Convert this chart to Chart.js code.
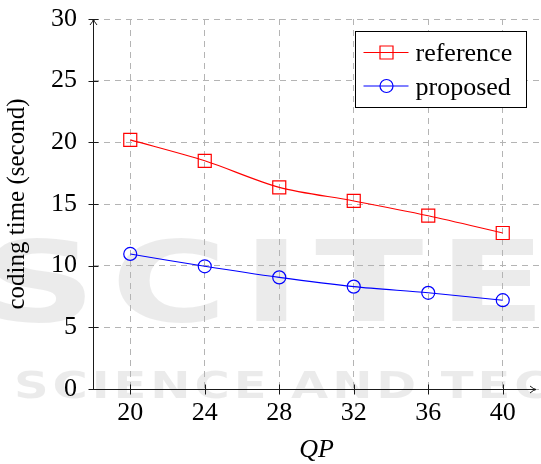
<!DOCTYPE html>
<html>
<head>
<meta charset="utf-8">
<script src="https://cdn.jsdelivr.net/npm/chart.js@4.4.0/dist/chart.umd.min.js"></script>
<style>
  html, body { margin: 0; padding: 0; background: #ffffff; }
  #wrap { width: 541px; height: 464px; }
</style>
</head>
<body>
<div id="wrap"><canvas id="chart" width="541" height="464"></canvas></div>
<script>
// Coding time per QP for the two encoders
const qpValues = [20, 24, 28, 32, 36, 40];
const referenceTimes = [20.2, 18.5, 16.35, 15.25, 14.05, 12.65];
const proposedTimes = [10.95, 9.95, 9.05, 8.3, 7.8, 7.2];
const yTickValues = [0, 5, 10, 15, 20, 25, 30];
const seriesNames = ['reference', 'proposed'];
const xTitle = 'QP';
const yTitle = 'coding time (second)';

const SERIF = "'Liberation Serif', 'Times New Roman', serif";
const RED = '#ff0000';
const BLUE = '#0000ff';
const GRID = '#b4b4b4';

const toPoints = (xs, ys) => xs.map((x, i) => ({ x: x, y: ys[i] }));

// faint publisher mark behind the plot
const backdropMark = {
  id: 'backdropMark',
  beforeDraw(chart) {
    const ctx = chart.ctx;
    ctx.save();
    ctx.fillStyle = 'rgba(0,0,0,0.08)';
    ctx.textBaseline = 'alphabetic';
    ctx.font = "bold 112px 'DejaVu Sans'";
    ctx.save();
    ctx.translate(-18, 321);
    ctx.scale(1.42, 1);
    ctx.letterSpacing = '10px';
    ctx.fillText('SCITE', 0, 0);
    ctx.restore();
    ctx.font = "bold 37px 'DejaVu Sans'";
    ctx.save();
    ctx.translate(14, 398);
    ctx.scale(1.3, 1);
    ctx.letterSpacing = '3px';
    ctx.fillText('SCIENCE AND TECHNOLOGY', 0, 0);
    ctx.restore();
    ctx.restore();
  }
};

function arrowHead(ctx, x, y, dir) {
  ctx.beginPath();
  if (dir === 'up') {
    ctx.moveTo(x - 3.5, y + 6);
    ctx.quadraticCurveTo(x - 0.5, y + 2.5, x, y);
    ctx.quadraticCurveTo(x + 0.5, y + 2.5, x + 3.5, y + 6);
  } else {
    ctx.moveTo(x - 6, y - 3.5);
    ctx.quadraticCurveTo(x - 2.5, y - 0.5, x, y);
    ctx.quadraticCurveTo(x - 2.5, y + 0.5, x - 6, y + 3.5);
  }
  ctx.stroke();
}

// axis lines with arrows, tick marks and the boxed legend
const axesAndLegend = {
  id: 'axesAndLegend',
  afterDraw(chart) {
    const ctx = chart.ctx;
    const a = chart.chartArea;
    const xs = chart.scales.x;
    const ys = chart.scales.y;
    const L = Math.round(a.left) + 0.5;
    const B = Math.round(a.bottom) + 0.5;
    ctx.save();
    ctx.strokeStyle = '#1a1a1a';
    ctx.lineWidth = 1;
    // y axis
    const yTop = ys.getPixelForValue(30);
    ctx.beginPath();
    ctx.moveTo(L, B);
    ctx.lineTo(L, yTop);
    ctx.stroke();
    arrowHead(ctx, L, yTop, 'up');
    // x axis
    const xEnd = a.right - 4;
    ctx.beginPath();
    ctx.moveTo(L, B);
    ctx.lineTo(xEnd, B);
    ctx.stroke();
    arrowHead(ctx, xEnd, B, 'right');
    // tick marks
    yTickValues.forEach(v => {
      const p = Math.round(ys.getPixelForValue(v)) + 0.5;
      ctx.beginPath();
      ctx.moveTo(L - 5, p);
      ctx.lineTo(L + 5, p);
      ctx.stroke();
    });
    qpValues.forEach(v => {
      const p = Math.round(xs.getPixelForValue(v)) + 0.5;
      ctx.beginPath();
      ctx.moveTo(p, B - 5);
      ctx.lineTo(p, B + 5);
      ctx.stroke();
    });

    // legend
    const bx = Math.round(a.right - 185) + 0.5;
    const by = Math.round(yTop + 12) + 0.5;
    const bw = 171, bh = 76;
    ctx.fillStyle = '#ffffff';
    ctx.fillRect(bx, by, bw, bh);
    ctx.strokeStyle = '#000000';
    ctx.strokeRect(bx, by, bw, bh);
    const rows = [
      { name: seriesNames[0], color: RED, shape: 'rect', cy: by + 21 },
      { name: seriesNames[1], color: BLUE, shape: 'circle', cy: by + 54.5 }
    ];
    rows.forEach(r => {
      ctx.strokeStyle = r.color;
      ctx.lineWidth = 1.2;
      ctx.beginPath();
      ctx.moveTo(bx + 8, r.cy);
      ctx.lineTo(bx + 53, r.cy);
      ctx.stroke();
      const mx = bx + 31;
      ctx.beginPath();
      if (r.shape === 'rect') {
        ctx.rect(mx - 6.5, r.cy - 6.5, 13, 13);
      } else {
        ctx.arc(mx, r.cy, 6.5, 0, Math.PI * 2);
      }
      ctx.stroke();
      ctx.fillStyle = '#000000';
      ctx.font = '26px ' + SERIF;
      ctx.textBaseline = 'alphabetic';
      ctx.textAlign = 'left';
      ctx.fillText(r.name, bx + 60, r.cy + 8.5);
    });
    ctx.restore();
  }
};

new Chart(document.getElementById('chart'), {
  type: 'line',
  data: {
    datasets: [
      {
        label: seriesNames[0],
        data: toPoints(qpValues, referenceTimes),
        borderColor: RED,
        borderWidth: 1.1,
        pointStyle: 'rect',
        pointRadius: 9.2,
        pointHoverRadius: 9.2,
        pointBorderWidth: 1.2,
        pointBorderColor: RED,
        pointBackgroundColor: 'rgba(0,0,0,0)',
        tension: 0.3,
        fill: false
      },
      {
        label: seriesNames[1],
        data: toPoints(qpValues, proposedTimes),
        borderColor: BLUE,
        borderWidth: 1.1,
        pointStyle: 'circle',
        pointRadius: 6.5,
        pointHoverRadius: 6.5,
        pointBorderWidth: 1.2,
        pointBorderColor: BLUE,
        pointBackgroundColor: 'rgba(0,0,0,0)',
        tension: 0.3,
        fill: false
      }
    ]
  },
  options: {
    responsive: false,
    animation: false,
    devicePixelRatio: 1,
    layout: { autoPadding: false, padding: { top: 19, right: 1, left: 0, bottom: 0 } },
    plugins: {
      legend: { display: false },
      tooltip: { enabled: false }
    },
    scales: {
      x: {
        type: 'linear',
        min: 18,
        max: 42,
        afterBuildTicks: s => { s.ticks = qpValues.map(v => ({ value: v })); },
        afterFit: s => { s.height = 75; s.paddingLeft = 0; s.paddingRight = 0; },
        ticks: {
          color: '#000000',
          font: { family: SERIF, size: 26 },
          padding: 9,
          maxRotation: 0,
          autoSkip: false,
          callback: v => String(v)
        },
        grid: { color: GRID, lineWidth: 1, drawTicks: false },
        border: { display: false, dash: [6, 5] },
        title: {
          display: true,
          text: xTitle,
          color: '#000000',
          font: { family: SERIF, size: 26, style: 'italic' },
          padding: { top: 0, bottom: -2 }
        }
      },
      y: {
        min: 0,
        max: 30,
        afterBuildTicks: s => { s.ticks = yTickValues.map(v => ({ value: v })); },
        afterFit: s => { s.width = 93; s.paddingTop = 0; s.paddingBottom = 0; },
        ticks: {
          color: '#000000',
          font: { family: SERIF, size: 26 },
          padding: 16,
          autoSkip: false,
          callback: v => String(v)
        },
        grid: { color: GRID, lineWidth: 1, drawTicks: false },
        border: { display: false, dash: [6, 5] },
        title: {
          display: true,
          text: yTitle,
          color: '#000000',
          font: { family: SERIF, size: 25 },
          padding: { top: 2, bottom: 0 }
        }
      }
    }
  },
  plugins: [backdropMark, axesAndLegend]
});
</script>
</body>
</html>
